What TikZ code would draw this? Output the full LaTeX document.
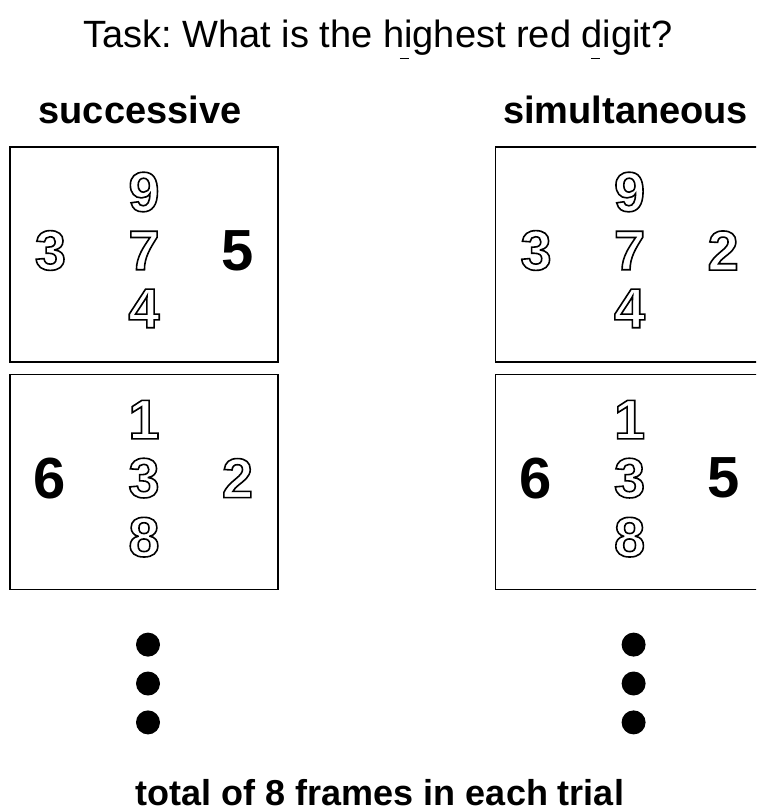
\documentclass[tikz,border=0pt]{standalone}
\usepackage{fontspec}
\setmainfont{Liberation Sans}
\usetikzlibrary{positioning}
\frenchspacing

% outlined digit: stroke the glyph instead of filling it
\newcommand\hollow[1]{%
  \special{pdf:literal direct 1 Tr 1.6 w}#1\special{pdf:literal direct 0 Tr 0.4 w}}
\newcommand\tick[1]{\rlap{\kern#1\lower12pt\hbox{\rule{9pt}{1.2pt}}}}

\begin{document}
\begin{tikzpicture}[x=1pt, y=-1pt, node distance=19pt,
  frame/.style={draw, line width=1.6pt, minimum width=268pt, minimum height=215pt, inner sep=0pt},
  digit/.style={inner sep=0pt, font=\fontsize{56}{60}\selectfont\bfseries},
  boldnum/.style={inner sep=0pt, font=\fontsize{58}{60}\selectfont\bfseries},
  heading/.style={inner sep=0pt, font=\fontsize{38}{44}\selectfont\bfseries},
  bullet/.style={circle, fill, inner sep=0pt, minimum size=24pt}]
  \useasboundingbox (0,0) rectangle (756,812);
  \clip (0,0) rectangle (756,812);

  \node[inner sep=0pt, anchor=base, font=\fontsize{38}{44}\selectfont] (task) at (378,47)
    {Task: What is the h\tick{-4.5pt}ighest red d\tick{-12pt}igit?};

  % frames
  \node[frame] (s1) at (144,254.5) {};
  \node[frame] (s2) [below=11pt of s1] {};
  \node[frame] (m1) [right=216pt of s1] {};
  \node[frame] (m2) [below=11pt of m1] {};

  \node[heading] (succ) [above=22pt of s1, xshift=-4pt] {successive};
  \node[heading] (simul) [above=22pt of m1, xshift=-4pt] {simultaneous};

  % successive, frame 1
  \node[digit] (s1c) at ([yshift=4pt]s1.center) {\hollow{7}};
  \node[digit] (s1t) [above=of s1c] {\hollow{9}};
  \node[digit] (s1b) [below=of s1c] {\hollow{4}};
  \node[digit] (s1l) [left=62pt of s1c] {\hollow{3}};
  \node[boldnum] (s1r) [right=62pt of s1c] {5};
  % successive, frame 2
  \node[digit] (s2c) at ([yshift=4pt]s2.center) {\hollow{3}};
  \node[digit] (s2t) [above=of s2c] {\hollow{1}};
  \node[digit] (s2b) [below=of s2c] {\hollow{8}};
  \node[boldnum] (s2l) [left=62pt of s2c] {6};
  \node[digit] (s2r) [right=62pt of s2c] {\hollow{2}};
  % simultaneous, frame 1
  \node[digit] (m1c) at ([yshift=4pt]m1.center) {\hollow{7}};
  \node[digit] (m1t) [above=of m1c] {\hollow{9}};
  \node[digit] (m1b) [below=of m1c] {\hollow{4}};
  \node[digit] (m1l) [left=62pt of m1c] {\hollow{3}};
  \node[digit] (m1r) [right=62pt of m1c] {\hollow{2}};
  % simultaneous, frame 2
  \node[digit] (m2c) at ([yshift=4pt]m2.center) {\hollow{3}};
  \node[digit] (m2t) [above=of m2c] {\hollow{1}};
  \node[digit] (m2b) [below=of m2c] {\hollow{8}};
  \node[boldnum] (m2l) [left=62pt of m2c] {6};
  \node[boldnum] (m2r) [right=62pt of m2c] {5};

  % more frames follow
  \node[bullet] (sd1) [below=42pt of s2, xshift=4pt] {};
  \node[bullet] (sd2) [below=14.5pt of sd1] {};
  \node[bullet] (sd3) [below=14.5pt of sd2] {};
  \node[bullet] (md1) [below=42pt of m2, xshift=4pt] {};
  \node[bullet] (md2) [below=14.5pt of md1] {};
  \node[bullet] (md3) [below=14.5pt of md2] {};

  \node[inner sep=0pt, anchor=base, font=\fontsize{36}{40}\selectfont\bfseries] (total) at (380,805)
    {total of 8 frames in each trial};
\end{tikzpicture}
\end{document}
